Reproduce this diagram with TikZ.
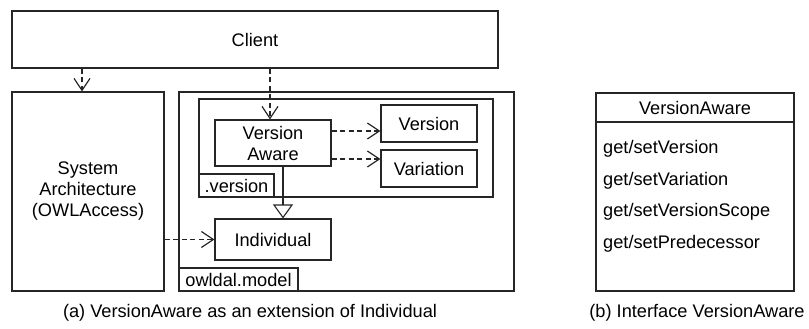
\documentclass[tikz,border=0pt]{standalone}
\usepackage{fontspec}
\setmainfont{Liberation Sans}
\usetikzlibrary{arrows.meta}

\tikzset{
  box/.style={draw=black!85, line width=1.1pt, inner sep=0pt, align=center},
  tab/.style={box, anchor=south west, minimum height=23pt},
  dep/.style={draw=black!85, line width=1.1pt, dash pattern=on 5pt off 3.5pt,
    -{Straight Barb[length=12pt,width=16pt,line width=1.2pt,line join=miter]}},
  ext/.style={draw=black!85, line width=1.1pt, -{Triangle[open,length=14pt,width=20pt]}}
}

\begin{document}
\begin{tikzpicture}[x=1pt, y=-1pt, font=\fontsize{18.2}{21}\selectfont]
  \useasboundingbox (0,0) rectangle (809,329);

  % (a) packages and classes
  \node (client) at (255, 39.5) [box, minimum width=486pt, minimum height=57pt] {Client};
  \node (sysarch) at (88, 191.5) [box, minimum width=152pt, minimum height=199pt]
    {System\\Architecture\\(OWLAccess)};
  \node (model) at (346.5, 191.5) [box, minimum width=335pt, minimum height=199pt] {};
  \node (mtab) at (model.south west) [tab, minimum width=119pt] {owldal.model};
  \node (vpkg) at (346, 148) [box, minimum width=294pt, minimum height=98pt] {};
  \node (vtab) at (vpkg.south west) [tab, minimum width=75pt] {.version};

  \node (vaware) at (273, 143) [box, minimum width=116pt, minimum height=46pt] {Version\\Aware};
  \node (version) at (429, 123.5) [box, minimum width=96pt, minimum height=37pt] {Version};
  \node (variation) at (429, 168.5) [box, minimum width=96pt, minimum height=37pt] {Variation};
  \node (individual) at (273, 239.5) [box, minimum width=116pt, minimum height=41pt] {Individual};

  \coordinate (c1) at (82, 0);
  \coordinate (c2) at (270, 0);
  \coordinate (c3) at (283, 0);
  \coordinate (r1) at (0, 131);
  \coordinate (r2) at (0, 159);

  \draw[dep] (client.south -| c1) -- (sysarch.north -| c1);
  \draw[dep] (client.south -| c2) -- (vaware.north -| c2);
  \draw[dep] (vaware.east |- r1) -- (version.west |- r1);
  \draw[dep] (vaware.east |- r2) -- (variation.west |- r2);
  \draw[ext] (vaware.south -| c3) -- (individual.north -| c3);
  \draw[dep] (sysarch.east |- individual) -- (individual.west);

  % (b) interface
  \node (iface) at (695, 192) [box, minimum width=198pt, minimum height=198pt] {};
  \node (ihead) at (695, 108) {VersionAware};
  \draw[draw=black!85, line width=1.1pt] (iface.west |- 0,122) -- (iface.east |- 0,122);
  \node (m1) at (603, 149) [anchor=west, inner sep=0pt] {get/setVersion};
  \node (m2) at (603, 181) [anchor=west, inner sep=0pt] {get/setVariation};
  \node (m3) at (603, 212) [anchor=west, inner sep=0pt] {get/setVersionScope};
  \node (m4) at (603, 244) [anchor=west, inner sep=0pt] {get/setPredecessor};

  % captions
  \node (capa) at (250, 313) {(a) VersionAware as an extension of Individual};
  \node (capb) at (697, 313) {(b) Interface VersionAware};
\end{tikzpicture}
\end{document}
